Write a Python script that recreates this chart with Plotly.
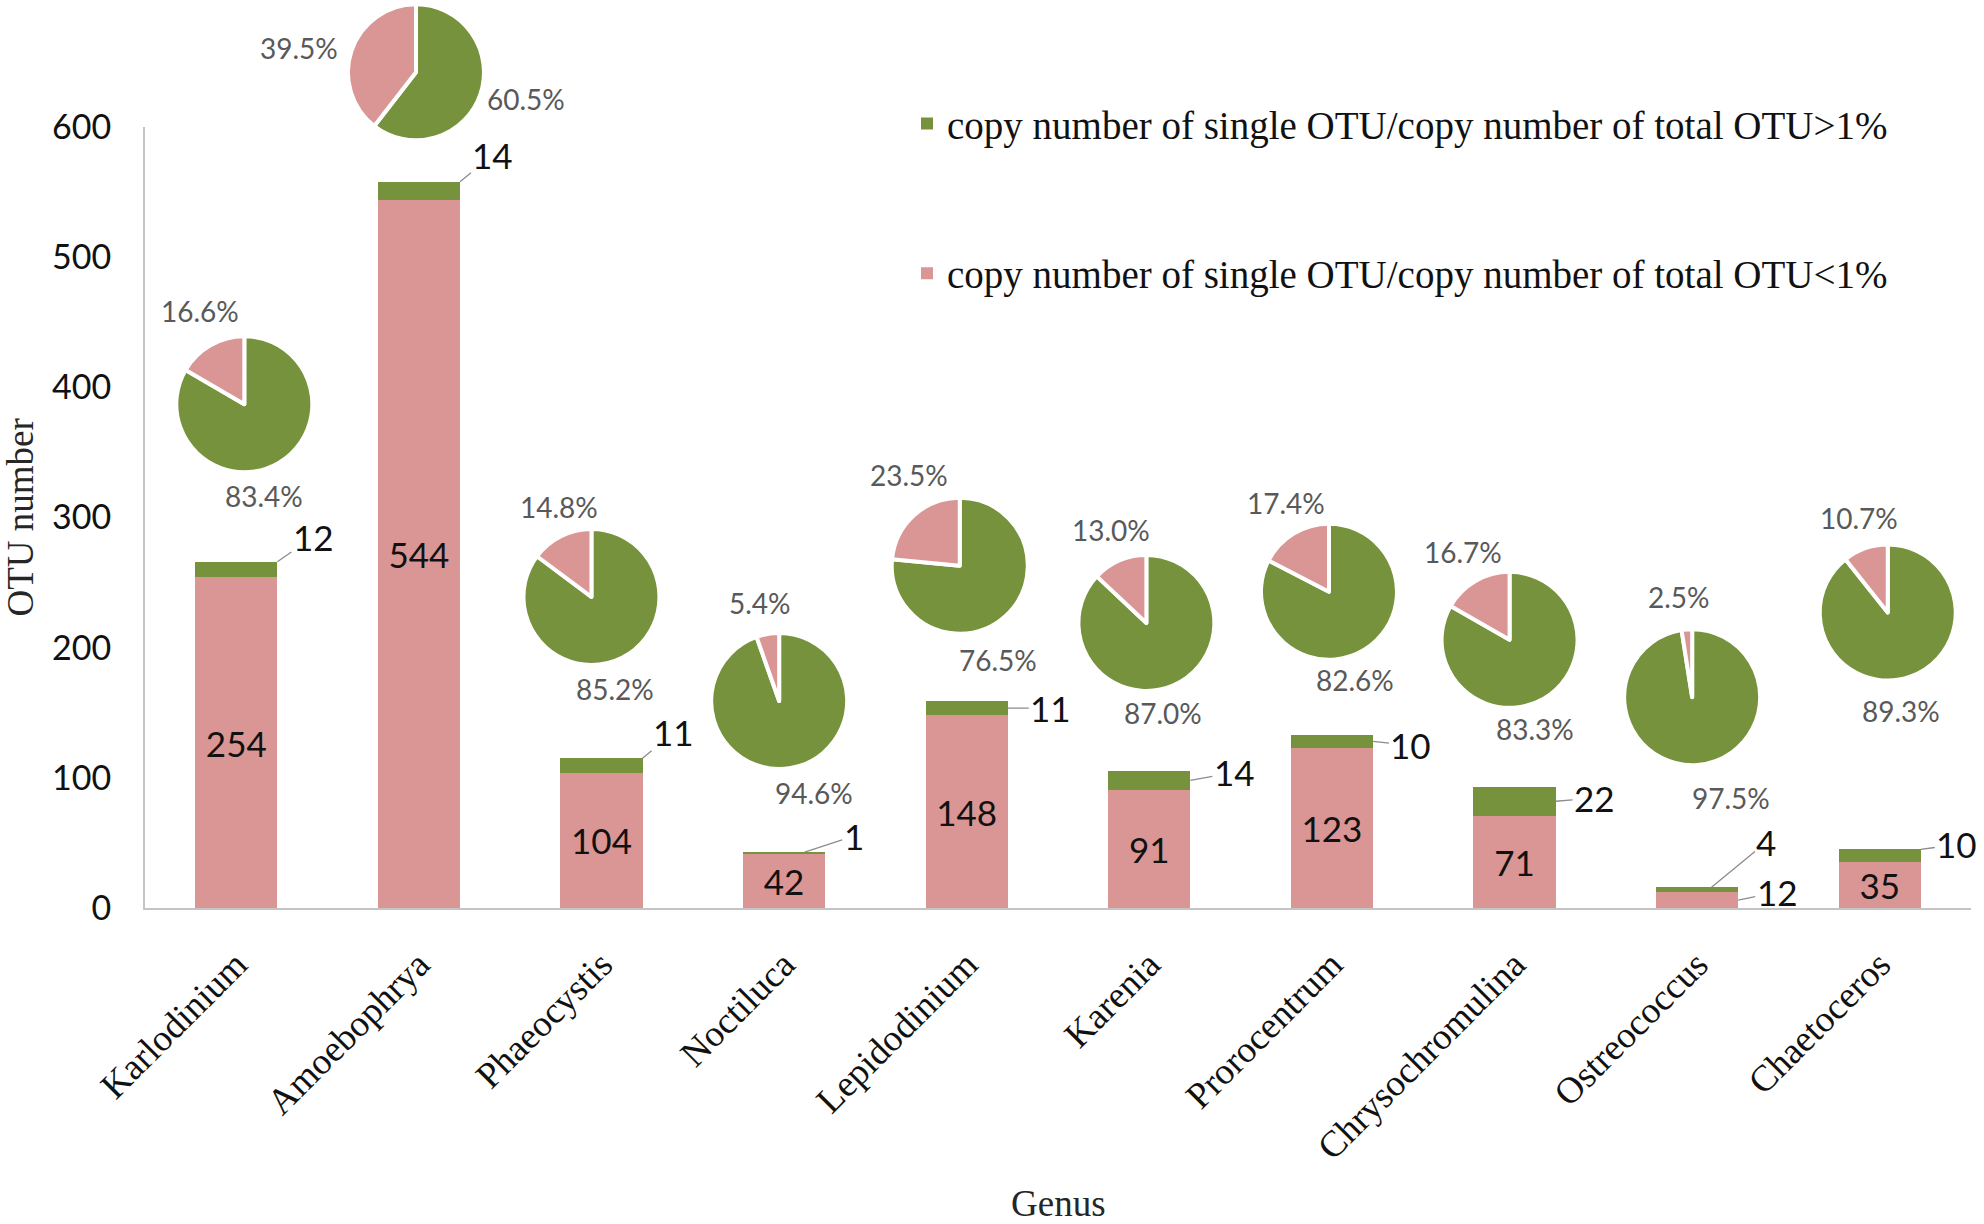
import plotly.graph_objects as go

# ------------------------------------------------------------
# data
# ------------------------------------------------------------
genus = ["Karlodinium", "Amoebophrya", "Phaeocystis", "Noctiluca", "Lepidodinium",
         "Karenia", "Prorocentrum", "Chrysochromulina", "Ostreococcus", "Chaetoceros"]

# OTU counts (stacked bars)
otu_below = [254, 544, 104, 42, 148, 91, 123, 71, 12, 35]   # <1% OTUs
otu_above = [12, 14, 11, 1, 11, 14, 10, 22, 4, 10]          # >1% OTUs

# copy-number shares (inset pies), in percent
pct_above = [83.4, 60.5, 85.2, 94.6, 76.5, 87.0, 82.6, 83.3, 97.5, 89.3]
pct_below = [16.6, 39.5, 14.8, 5.4, 23.5, 13.0, 17.4, 16.7, 2.5, 10.7]

y_ticks = [0, 100, 200, 300, 400, 500, 600]

name_above = "copy number of single OTU/copy number of total OTU>1%"
name_below = "copy number of single OTU/copy number of total OTU<1%"

# ------------------------------------------------------------
# layout / placement (not data)
# ------------------------------------------------------------
W, H = 1984, 1224
ML, MR, MT, MB = 145, 13, 0, 316
plot_w = W - ML - MR
plot_h = H - MT - MB
y_top = 781 / plot_h          # y axis sits in the lower part, pies may go above it
y_max = 600
n = len(genus)

# pie centres: shift from the bar centre (category units) and height (axis units)
pie_dx = [0.044, -0.016, -0.055, -0.027, -0.038, -0.016, -0.016, -0.027, -0.027, 0.044]
pie_y = [387, 642, 239, 159, 263, 219, 243, 206, 162, 227]
pie_r = 68  # px

# where the percentage labels sit, relative to the pie centre (px, y down)
pct_above_pos = [(20, 92), (110, 27), (24, 92), (35, 92), (38, 94),
                 (17, 90), (26, 88), (25, 89), (39, 101), (13, 98)]
pct_below_pos = [(-44, -93), (-117, -24), (-32, -90), (-19, -98), (-51, -91),
                 (-35, -93), (-43, -89), (-47, -88), (-13, -100), (-29, -95)]

# >1% value labels: where the leader starts and where the label sits (px)
green_anchor = ["top", "top", "top", "top", "mid", "mid", "mid", "mid", "top", "top"]
green_anchor_x = [1, 1, 1, 0.5, 1, 1, 1, 1, 0.35, 1]
green_offset = [(36, -25), (33, -27), (31, -26), (49, -16), (43, 0),
                (44, -8), (38, 4), (39, -3), (55, -45), (36, -5)]

GREEN = "#76923C"
PINK = "#D99694"
AXIS = "#C4C4C4"
LEADER = "#8C8C8C"
bar_width = 0.45
num_font = "Lato"
serif = "Liberation Serif"


def paper_x(pos):
    return (pos + 0.5) / n


def paper_y(val):
    return y_top * val / y_max


fig = go.Figure()

fig.add_trace(go.Bar(
    x=genus, y=otu_below, name=name_below, marker_color=PINK,
    width=bar_width, legendgroup="below", legendrank=2,
    text=[str(v) if v >= 20 else "" for v in otu_below],
    textposition="inside", insidetextanchor="middle", textangle=0,
    constraintext="none",
    textfont=dict(family=num_font, size=35, color="#111111"),
    hoverinfo="skip",
))
fig.add_trace(go.Bar(
    x=genus, y=otu_above, name=name_above, marker_color=GREEN,
    width=bar_width, legendgroup="above", legendrank=1, hoverinfo="skip",
))

annotations = []

# value labels of the >1% segments, with leader lines
for i, (lo, hi) in enumerate(zip(otu_below, otu_above)):
    ya = lo + hi if green_anchor[i] == "top" else lo + hi / 2
    ax, ay = green_offset[i]
    annotations.append(dict(
        x=i + green_anchor_x[i] * bar_width / 2, y=ya, xref="x", yref="y",
        text=str(hi), showarrow=True, arrowhead=0, arrowwidth=1.3,
        arrowcolor=LEADER, ax=ax, ay=ay, standoff=0,
        font=dict(family=num_font, size=35, color="#111111"),
    ))

# small <1% segments get their label outside
for i, lo in enumerate(otu_below):
    if lo < 20:
        annotations.append(dict(
            x=i + bar_width / 2, y=lo / 2, xref="x", yref="y",
            text=str(lo), showarrow=True, arrowhead=0, arrowwidth=1.3,
            arrowcolor=LEADER, ax=39, ay=-8, standoff=0,
            font=dict(family=num_font, size=35, color="#111111"),
        ))

# inset pies with percentage labels
for i in range(n):
    cx = paper_x(i + pie_dx[i])
    cy = paper_y(pie_y[i])
    fig.add_trace(go.Pie(
        values=[pct_above[i], pct_below[i]],
        labels=[">1%", "<1%"],
        marker=dict(colors=[GREEN, PINK], line=dict(color="white", width=4)),
        sort=False, direction="clockwise", rotation=0,
        textinfo="none", hoverinfo="skip", showlegend=False,
        domain=dict(x=[cx - pie_r / plot_w, cx + pie_r / plot_w],
                    y=[cy - pie_r / plot_h, cy + pie_r / plot_h]),
    ))
    for val, (ox, oy) in ((pct_above[i], pct_above_pos[i]),
                          (pct_below[i], pct_below_pos[i])):
        annotations.append(dict(
            x=cx, y=cy, xref="paper", yref="paper",
            xshift=ox, yshift=-oy,
            text=f"{val:.1f}%", showarrow=False,
            xanchor="center", yanchor="middle",
            font=dict(family=num_font, size=28, color="#595959"),
        ))

# axis titles
annotations.append(dict(
    x=0.5, y=-(1204 - plot_h) / plot_h, xref="paper", yref="paper",
    text="Genus", showarrow=False, xanchor="center", yanchor="middle",
    font=dict(family=serif, size=37, color="#262626"),
))
annotations.append(dict(
    x=-(ML - 20) / plot_w, y=y_top / 2, xref="paper", yref="paper",
    text="OTU number", showarrow=False, textangle=-90,
    xanchor="center", yanchor="middle",
    font=dict(family=serif, size=37, color="#262626"),
))

fig.update_layout(
    template="none",
    width=W, height=H,
    margin=dict(l=ML, r=MR, t=MT, b=MB, pad=0),
    paper_bgcolor="white", plot_bgcolor="white",
    barmode="stack",
    showlegend=True,
    legend=dict(
        x=(907 - ML) / plot_w, y=0.899, xanchor="left", yanchor="top",
        traceorder="grouped", tracegroupgap=96,
        font=dict(family=serif, size=39, color="#111111"),
        bgcolor="rgba(0,0,0,0)",
    ),
    annotations=annotations,
    xaxis=dict(
        type="category", domain=[0, 1], range=[-0.5, n - 0.5],
        showline=True, linecolor=AXIS, linewidth=2,
        ticks="", showgrid=False, zeroline=False, automargin=False,
        tickangle=-45, ticklabelstandoff=18,
        tickfont=dict(family=serif, size=37, color="#111111"),
    ),
    yaxis=dict(
        domain=[0, y_top], range=[0, y_max],
        tickvals=y_ticks,
        showline=True, linecolor=AXIS, linewidth=2,
        ticks="", showgrid=False, zeroline=False, automargin=False,
        ticklabelstandoff=25,
        tickfont=dict(family=num_font, size=34, color="#111111"),
    ),
)

# the page's default body margin would shift the figure off the canvas
fig.write_html("out.html", config={"displayModeBar": False},
               post_script="document.body.style.margin='0';")
